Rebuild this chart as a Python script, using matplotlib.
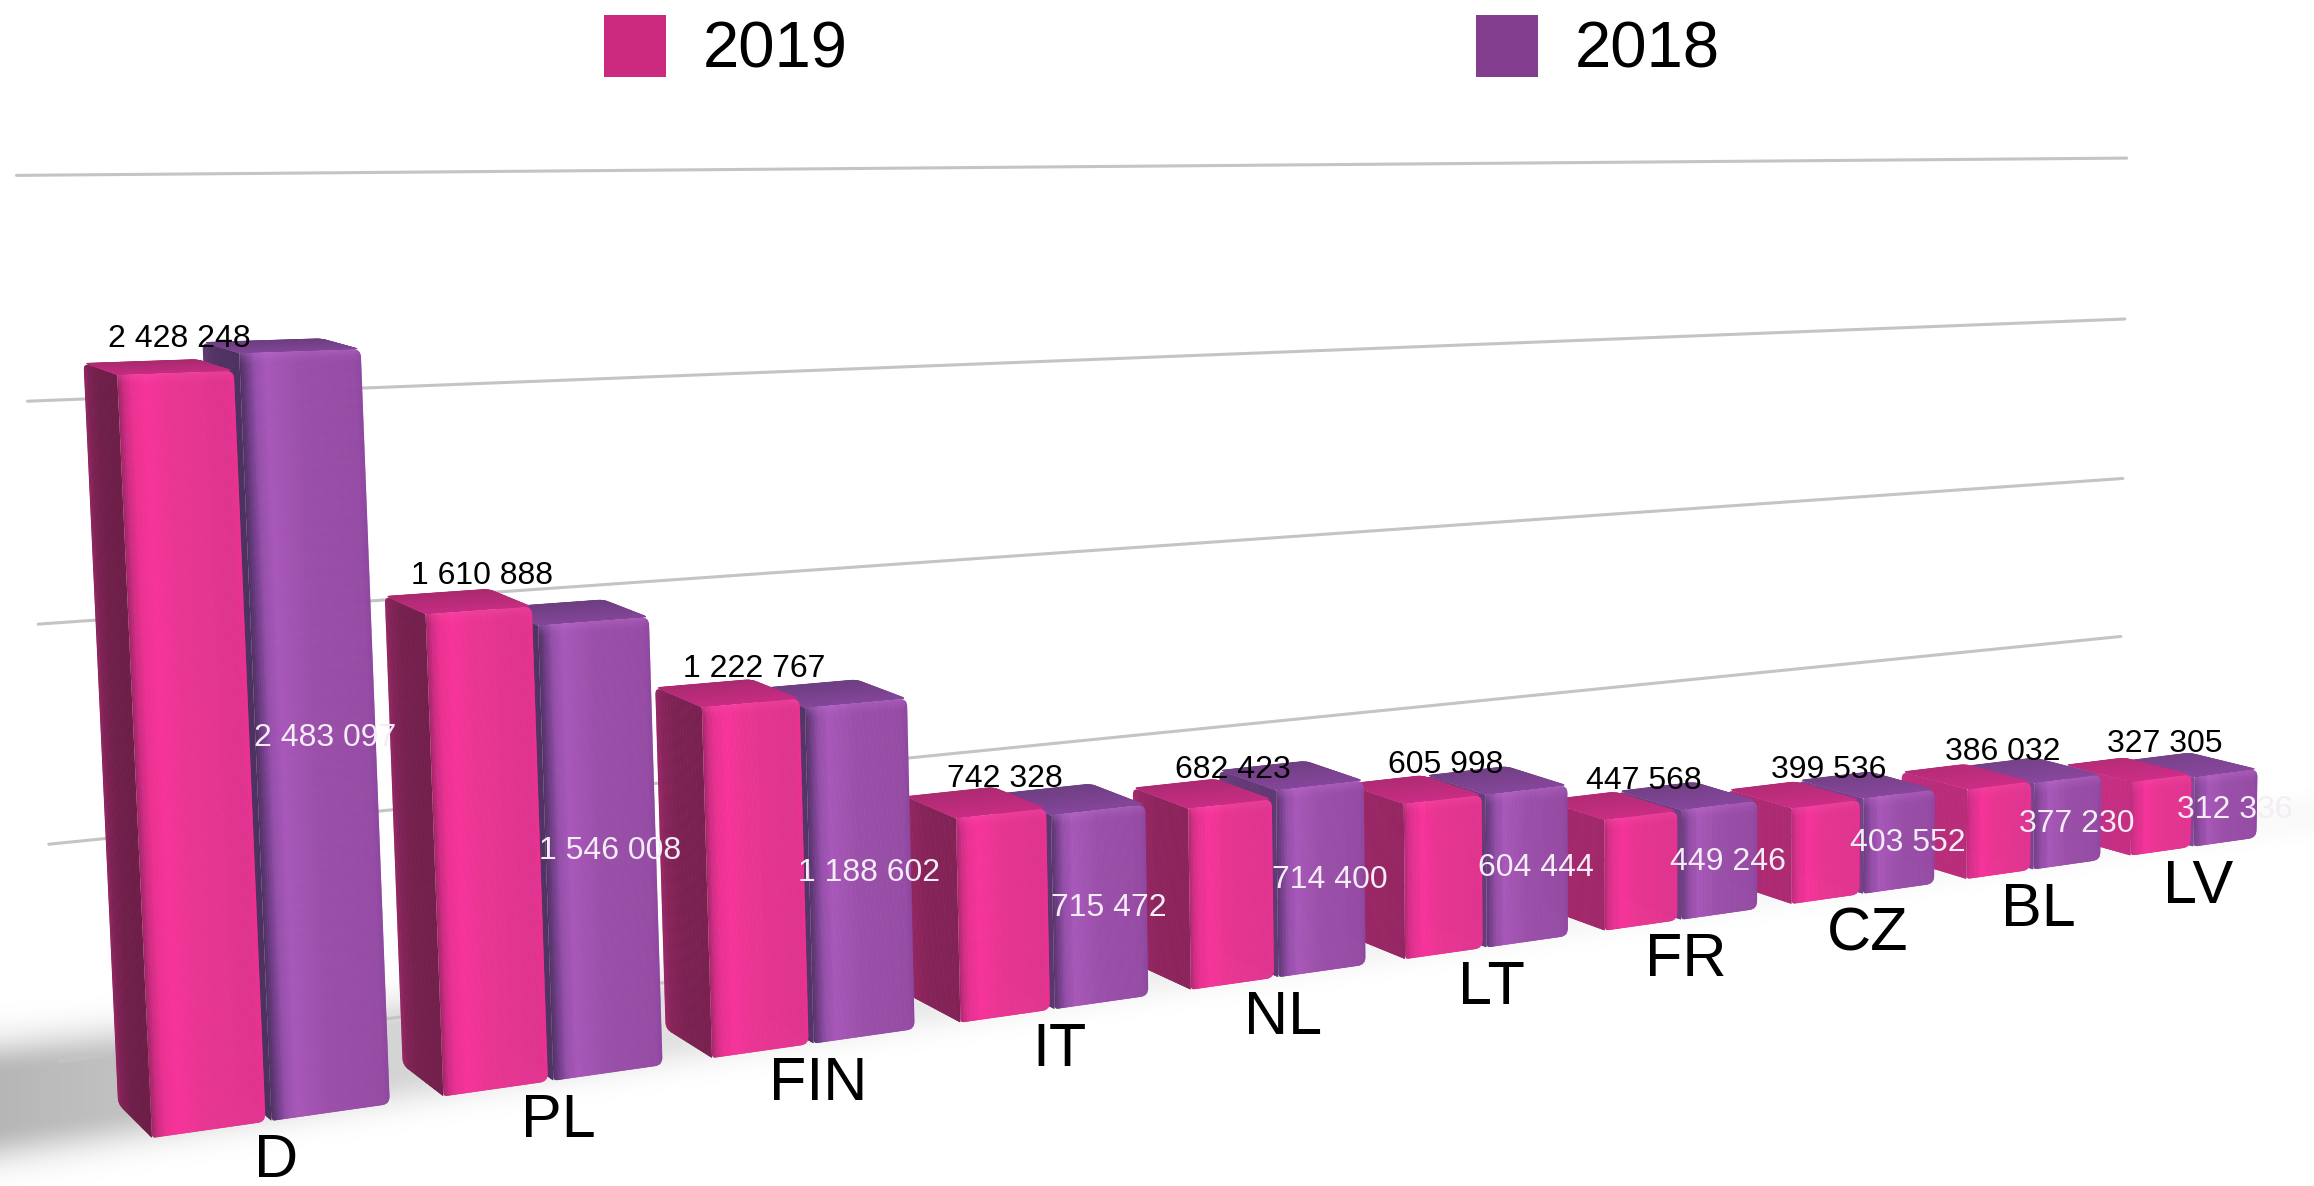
import numpy as np
import matplotlib
matplotlib.use("Agg")
import matplotlib.pyplot as plt
from matplotlib.path import Path
from matplotlib.collections import PolyCollection
from matplotlib.colors import LinearSegmentedColormap, to_rgba
from matplotlib.patches import Rectangle

categories = ["D", "PL", "FIN", "IT", "NL", "LT", "FR", "CZ", "BL", "LV"]
values_2019 = [2428248, 1610888, 1222767, 742328, 682423, 605998, 447568, 399536, 386032, 327305]
values_2018 = [2483097, 1546008, 1188602, 715472, 714400, 604444, 449246, 403552, 377230, 312336]
grid_values = [0, 750000, 1500000, 2250000, 3000000]
series_names = ["2019", "2018"]

plt.rcParams['font.family'] = ['Liberation Sans', 'DejaVu Sans']
W, H = 2314, 1186
fig = plt.figure(figsize=(W / 100, H / 100), dpi=100)
ax = fig.add_axes([0, 0, 1, 1])
ax.set_xlim(0, W)
ax.set_ylim(H, 0)
ax.axis('off')

# camera: homography from (category position u, value v in millions, depth z)
C, A, B, X0, Y0 = 0.0424, 310.2, 4.9, 152.0, 1138.0
VW, VX, VY = -0.00907, -15.4, -317.6
K, ZX, ZY = 0.03, -1015.0, -29.0


def proj(u, v, z):
    u, v, z = np.asarray(u, float), np.asarray(v, float), np.asarray(z, float)
    w = 1 + C * u + VW * v + K * z
    return (X0 + A * u + VX * v + K * z * ZX) / w, (Y0 + B * u + VY * v + K * z * ZY) / w


def cmap(stops):
    return LinearSegmentedColormap.from_list("c", stops)


def mix(c1, c2, t):
    a, b = np.array(to_rgba(c1)), np.array(to_rgba(c2))
    return tuple(a * (1 - t) + b * t)


STY = {
    "2019": dict(front=cmap([(0, "#A32768"), (.05, "#D02C84"), (.12, "#EC3192"), (.24, "#F7339A"), (.44, "#E93592"),
                             (.93, "#E03590"), (1, "#EA3290")]),
                 side=cmap([(0, "#6C1E47"), (.6, "#701F4A"), (.9, "#7E2255"), (1, "#8F2560")]),
                 top=cmap([(0, "#C72C82"), (1, "#A92A6F")]), glow="#FF55B0", base="#DB3290", u=(0.0, 0.38)),
    "2018": dict(front=cmap([(0, "#503264"), (.05, "#6E3C85"), (.12, "#9650AB"), (.22, "#A857B9"), (.5, "#9A4FA9"),
                             (.95, "#964CA5"), (1, "#8F48A0")]),
                 side=cmap([(0, "#4C3060"), (.7, "#503264"), (1, "#5E3872")]),
                 top=cmap([(0, "#84459A"), (1, "#6C3E80")]), glow="#C878DC", base="#954CA6", u=(0.40, 0.81)),
}


def rounded(xs, ys, radii):
    verts, codes = [], []
    n = len(xs)
    for i in range(n):
        r = radii[i]
        p = np.array([xs[i], ys[i]])
        a = np.array([xs[i - 1], ys[i - 1]])
        b = np.array([xs[(i + 1) % n], ys[(i + 1) % n]])
        pa = p + (a - p) / np.linalg.norm(a - p) * r
        pb = p + (b - p) / np.linalg.norm(b - p) * r
        verts += [pa, p, pb]
        codes += [Path.MOVETO if i == 0 else Path.LINETO, Path.CURVE3, Path.CURVE3]
    verts.append(verts[0])
    codes.append(Path.CLOSEPOLY)
    return Path(np.array(verts), codes)


def draw_strips(polys, colors, z, clip=None):
    pc = PolyCollection(polys, facecolors=colors, edgecolors=colors, linewidths=.6, zorder=z)
    ax.add_collection(pc)
    if clip is not None:
        pc.set_clip_path(clip, ax.transData)
    return pc


# floor shadow
xx, yy = np.meshgrid(np.arange(W), np.arange(H))
line = 1138 - 0.1427 * (xx - 152)
fx = np.clip(xx / W, 0, 1)
center = line - (60 - 45 * fx)
half = 25 - 20 * fx
up = 24 - 12 * fx
down = 24 - 12 * fx
d = yy - center
e = np.where(d < -half, (d + half) / up, np.where(d > half, (d - half) / down, 0))
gauss = np.exp(-0.5 * e ** 2)
alpha = gauss * (0.21 * np.exp(-xx / 600.0) + 0.08 * np.exp(-xx / 1500.0))
shadow = np.zeros((H, W, 4))
shadow[..., 3] = alpha
ax.imshow(shadow, extent=(0, W, H, 0), aspect='auto', zorder=1, interpolation='bilinear')
ax.set_xlim(0, W)
ax.set_ylim(H, 0)

# gridlines on the back wall
for g in grid_values:
    gx, gy = proj([-0.05, 9.95], g / 1e6, 2.4)
    ax.plot(gx, gy, color="#C4C4C4", lw=2.2, zorder=2.1, solid_capstyle='round')


def draw_bar(i, val, name, z):
    s = STY[name]
    tint = 0.8 * (i / 9) ** 1.3
    u0, u1 = i + s["u"][0], i + s["u"][1]
    v = val / 1e6
    n = 30
    # left side
    zs = np.linspace(0, 1, n + 1)
    polys, cols = [], []
    for j in range(n):
        px, py = proj([u0, u0, u0, u0], [0, v, v, 0], [zs[j], zs[j], zs[j + 1], zs[j + 1]])
        polys.append(np.c_[px, py])
        cols.append(mix(s["side"](j / (n - 1)), s["base"], tint))
    ox, oy = proj([u0, u0, u0, u0], [0, v, v, 0], [0, 0, 1, 1])
    draw_strips(polys, cols, z, rounded(ox, oy, [1, 1, 7, 7]))
    # top
    polys, cols = [], []
    for j in range(n):
        px, py = proj([u0, u1, u1, u0], v, [zs[j], zs[j], zs[j + 1], zs[j + 1]])
        polys.append(np.c_[px, py])
        cols.append(mix(s["top"](j / (n - 1)), s["base"], tint * .35))
    ox, oy = proj([u0, u1, u1, u0], v, [0, 0, 1, 1])
    draw_strips(polys, cols, z + .1, rounded(ox, oy, [1, 6, 6, 6]))
    # front
    us = np.linspace(u0, u1, n * 2 + 1)
    polys, cols = [], []
    for j in range(n * 2):
        px, py = proj([us[j], us[j + 1], us[j + 1], us[j]], [0, 0, v, v], 0)
        polys.append(np.c_[px, py])
        t = j / (2 * n - 1)
        cols.append(mix(s["front"](t), s["base"], tint * .7 * (t < .2)))
    fx_, fy_ = proj([u0, u1, u1, u0], [0, 0, v, v], 0)
    clip = rounded(fx_, fy_, [4, 8, 8, 1])
    draw_strips(polys, cols, z + .2, clip)
    # highlight under the top edge of the front face
    tx, ty = proj(np.array([u0, u1]), v, 0)
    band = 12
    for j in range(8):
        a = 0.30 * (1 - j / 8) ** 1.5
        poly = np.array([[tx[0], ty[0] + j * band / 8], [tx[1], ty[1] + j * band / 8],
                         [tx[1], ty[1] + (j + 1) * band / 8], [tx[0], ty[0] + (j + 1) * band / 8]])
        pc = PolyCollection([poly], facecolors=[s["glow"]], edgecolors='none', alpha=a, zorder=z + .3)
        ax.add_collection(pc)
        pc.set_clip_path(clip, ax.transData)


z = 10.0
for i in range(len(categories) - 1, -1, -1):
    draw_bar(i, values_2018[i], "2018", z)
    z += 1
    draw_bar(i, values_2019[i], "2019", z)
    z += 1


def fmt(v):
    return f"{v:,}".replace(",", " ")


LBL = 23
for i, cat in enumerate(categories):
    u0, u1 = STY["2019"]["u"]
    tx, ty = proj(i + (u0 + u1) / 2, values_2019[i] / 1e6, 0)
    ax.text(tx + 3, ty - 34, fmt(values_2019[i]), fontsize=LBL, color="black", ha='center', va='center', zorder=100)
    u0, u1 = STY["2018"]["u"]
    mx, my = proj(i + (u0 + u1) / 2, values_2018[i] / 2e6, 0)
    ax.text(mx + 9, my + 2, fmt(values_2018[i]), fontsize=LBL, color="#F4ECF6", ha='center', va='center', zorder=100)
    cx, cy = proj(i + 0.40, 0, 0)
    ax.text(cx + 5, cy + 41, cat, fontsize=44, color="black", ha='center', va='center', zorder=100)

# legend
for lx, name, col, tx in [(604, series_names[0], "#CC2A7E", 703), (1476, series_names[1], "#843E8F", 1575)]:
    ax.add_patch(Rectangle((lx, 15), 62, 62, facecolor=col, edgecolor='none', zorder=100))
    ax.text(tx, 51, name, fontsize=47, color="black", ha='left', va='center', zorder=100)

fig.savefig("out.png", dpi=100)
